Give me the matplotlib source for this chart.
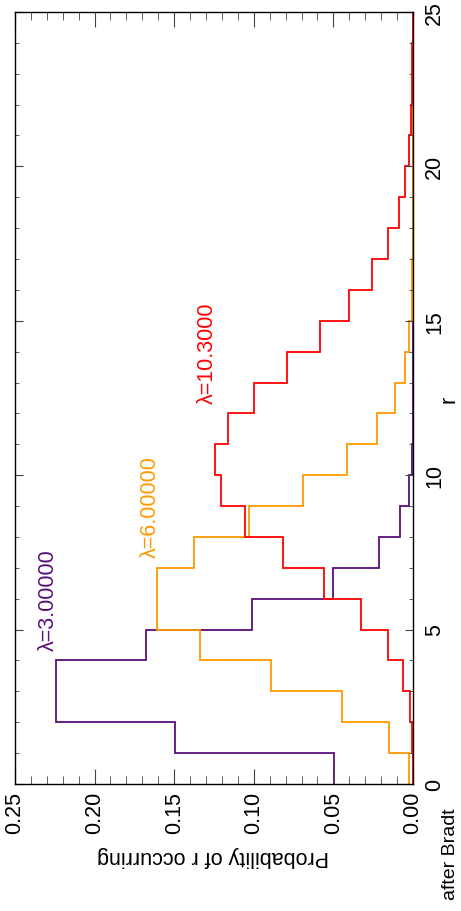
import matplotlib.pyplot as plt
import numpy as np
from matplotlib.ticker import MultipleLocator

plt.rcParams["font.family"] = ["Liberation Sans", "DejaVu Sans"]

# bin edges for r (one bin per integer value)
r_edges = np.arange(0, 26)

p_lam3 = [0.0498, 0.1494, 0.2240, 0.2240, 0.1680, 0.1008, 0.0504, 0.0216,
          0.0081, 0.0027, 0.0008, 0.0002, 0.0001, 0.0, 0.0, 0.0, 0.0, 0.0,
          0.0, 0.0, 0.0, 0.0, 0.0, 0.0, 0.0]
p_lam6 = [0.0025, 0.0149, 0.0446, 0.0892, 0.1339, 0.1606, 0.1606, 0.1377,
          0.1033, 0.0688, 0.0413, 0.0225, 0.0113, 0.0052, 0.0022, 0.0009,
          0.0003, 0.0001, 0.0, 0.0, 0.0, 0.0, 0.0, 0.0, 0.0]
p_lam10 = [0.0000, 0.0003, 0.0018, 0.0061, 0.0157, 0.0324, 0.0556, 0.0818,
           0.1053, 0.1205, 0.1241, 0.1162, 0.0998, 0.0790, 0.0582, 0.0399,
           0.0257, 0.0156, 0.0089, 0.0048, 0.0025, 0.0012, 0.0006, 0.0003,
           0.0001]

labels = ["\u03bb=3.00000", "\u03bb=6.00000", "\u03bb=10.3000"]
colors = ["#5b0f78", "#ff9900", "#ff0000"]
# label anchor (probability, r)
label_pos = [(0.229, 4.35), (0.165, 7.35), (0.129, 12.35)]

fig = plt.figure(figsize=(4.61, 9.12), dpi=100)
ax = fig.add_axes([0.0325, 0.1393, 0.8633, 0.8465])

# figure is drawn turned on its side: r runs upward, probability to the left
for p, c in zip([p_lam3, p_lam6, p_lam10], colors):
    ax.stairs(p, r_edges, orientation="horizontal", baseline=None,
              color=c, linewidth=1.3)

for txt, c, (px, py) in zip(labels, colors, label_pos):
    ax.text(px, py, txt, color=c, fontsize=15.5, rotation=90,
            ha="center", va="bottom")

ax.set_xlim(0.25, 0.0)
ax.set_ylim(0, 25)

ax.xaxis.set_major_locator(MultipleLocator(0.05))
ax.xaxis.set_minor_locator(MultipleLocator(0.01))
ax.yaxis.set_major_locator(MultipleLocator(5))
ax.yaxis.set_minor_locator(MultipleLocator(1))
ax.xaxis.set_major_formatter(lambda v, pos: f"{v:.2f}")

ax.tick_params(axis="x", which="both", direction="in", top=True, bottom=True,
               color="#444444", labelsize=15.5, labelrotation=90, pad=5)
ax.tick_params(axis="x", which="major", length=11)
ax.tick_params(axis="x", which="minor", length=5.5)
ax.tick_params(axis="y", which="both", direction="in", left=True, right=True,
               labelleft=False, labelright=True, color="#444444",
               labelsize=15.5, labelrotation=90, pad=8)
ax.tick_params(axis="y", which="major", length=6)
ax.tick_params(axis="y", which="minor", length=3)
for lab in ax.get_yticklabels():
    lab.set_va("center")

for s in ax.spines.values():
    s.set_color("black")
    s.set_linewidth(1.0)

ax.set_xlabel("Probability of r occurring", fontsize=15.5, rotation=180,
              ha="center", va="center")
ax.xaxis.set_label_coords(0.497, -0.093)
ax.yaxis.set_label_position("right")
ax.set_ylabel("r", fontsize=15.5, rotation=90, ha="center", va="center")
ax.yaxis.set_label_coords(1.09, 0.5)

fig.text(0.978, 0.0636, "after Bradt", fontsize=14, rotation=90,
         ha="center", va="center")

fig.savefig("out.png", dpi=100)
